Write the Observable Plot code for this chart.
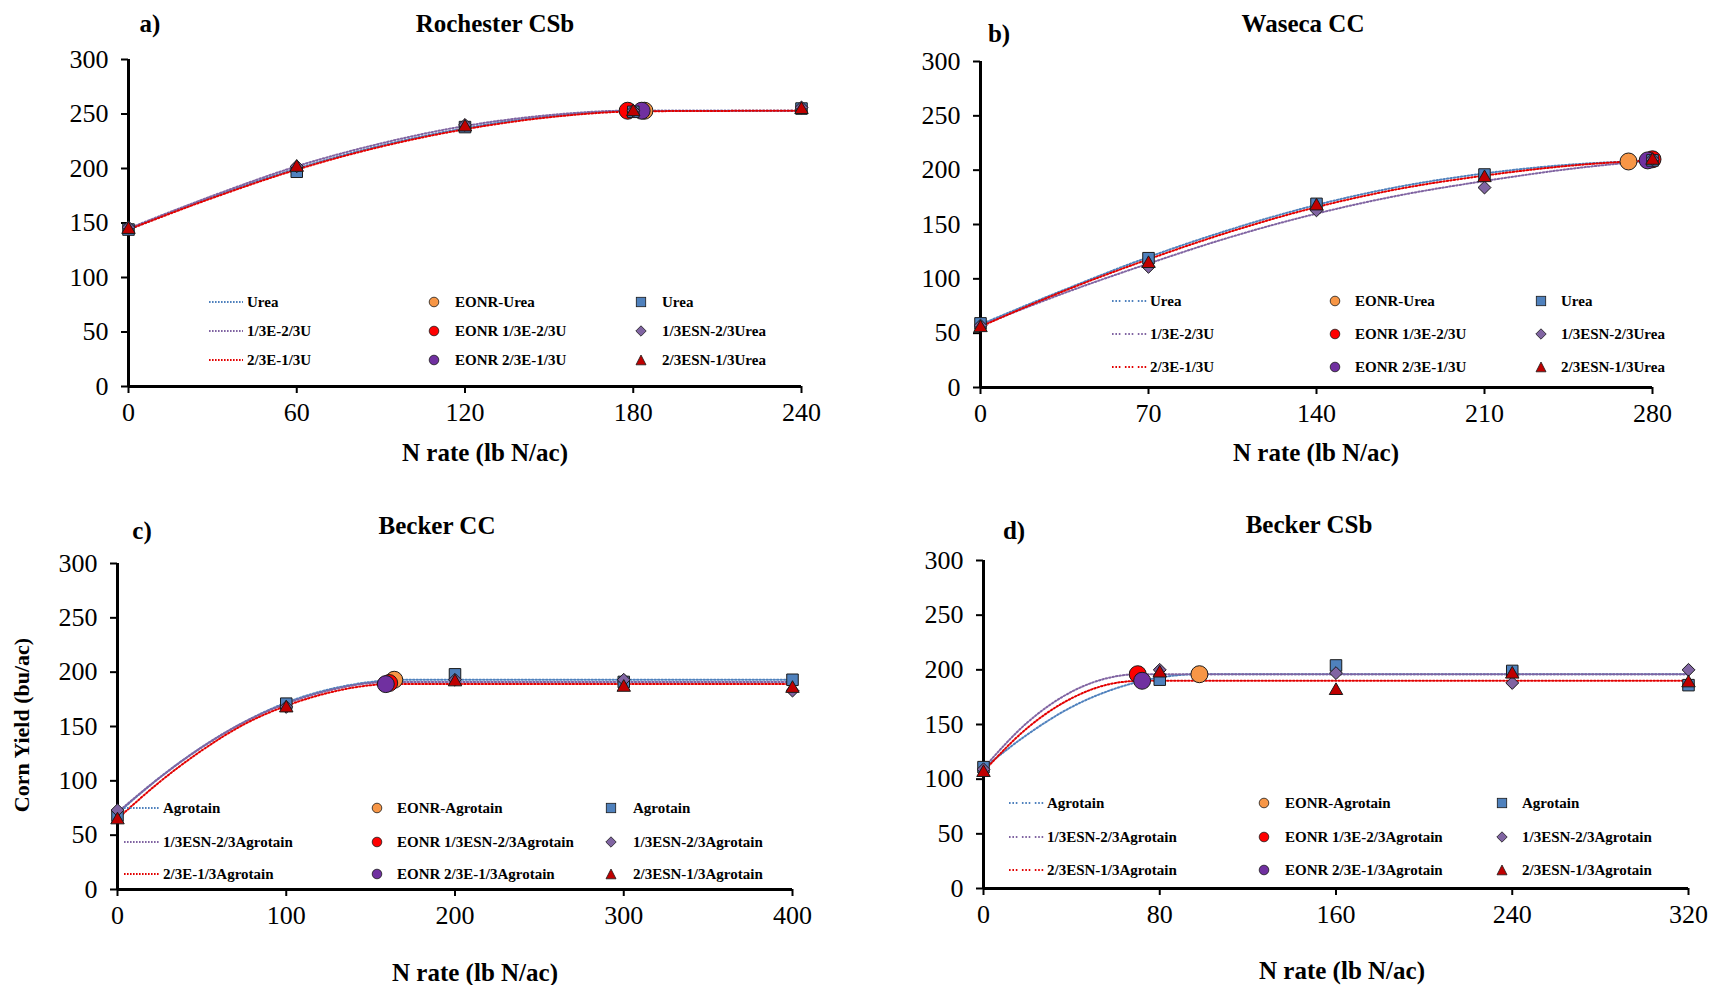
<!DOCTYPE html>
<html><head><meta charset="utf-8">
<script src="https://cdn.jsdelivr.net/npm/d3@7"></script>
<script src="https://cdn.jsdelivr.net/npm/@observablehq/plot@0.6"></script>
<style>
body{margin:0;background:#fff;}
#root{position:relative;width:1722px;height:985px;font-family:"Liberation Serif","Times New Roman",serif;color:#000;overflow:hidden;background:#fff}
.abs{position:absolute;white-space:nowrap;line-height:1}
.t{font-weight:bold;font-size:25px;transform:translate(-50%,-50%)}
.lg{font-weight:bold;font-size:15px;transform:translateY(-50%)}
.sym{position:absolute;transform:translate(-50%,-50%)}
.plot{position:absolute}
.plot text{font-family:"Liberation Serif","Times New Roman",serif}
</style></head><body><div id="root"></div>
<script>
// ---------------- DATA ----------------
const yTicks = [0, 50, 100, 150, 200, 250, 300];

// a) Rochester CSb
const rochX = [0, 60, 120, 180, 240];
const rochUrea = [144, 197, 238, 252, 255];
const rochE13 = [146, 202, 240, 253, 256];
const rochE23 = [144, 201, 238, 252, 254];
const rochEonrX = [184, 178, 183];       // EONR-Urea, EONR 1/3E-2/3U, EONR 2/3E-1/3U
const rochEonrY = [253, 253, 253];
const rochCurveUreaX = [0, 30, 60, 90, 120, 150, 184, 240];
const rochCurveUreaY = [144, 174, 200, 221, 237, 248, 253, 253];
const rochCurveE13X = [0, 30, 60, 90, 120, 150, 178, 240];
const rochCurveE13Y = [145, 175, 202, 223, 239, 249, 253, 253];
const rochCurveE23X = [0, 30, 60, 90, 120, 150, 183, 240];
const rochCurveE23Y = [144, 173, 199, 220, 236, 247, 252.5, 253];

// b) Waseca CC
const wasX = [0, 70, 140, 210, 280];
const wasUrea = [59, 119, 169, 196, 209];
const wasE13 = [57, 111, 163, 184, 210];
const wasE23 = [55, 114, 167, 193, 209];
const wasEonrX = [270, 280, 278];
const wasEonrY = [208, 210, 209];
const wasCurveUreaX = [0, 35, 70, 105, 140, 175, 210, 245, 270];
const wasCurveUreaY = [58, 90, 120, 146, 168, 185, 197, 205, 208];
const wasCurveE13X = [0, 35, 70, 105, 140, 175, 210, 245, 280];
const wasCurveE13Y = [57, 87, 114, 139, 160, 177, 190, 201, 209];
const wasCurveE23X = [0, 35, 70, 105, 140, 175, 210, 245, 278];
const wasCurveE23Y = [56, 89, 118, 144, 166, 183, 195, 204, 209];

// c) Becker CC
const bccX = [0, 100, 200, 300, 400];
const bccAgro = [68, 171, 198, 191, 193];
const bccE13 = [73, 168, 193, 193, 183];
const bccE23 = [64, 167, 191, 186, 185];
const bccEonrX = [164, 161, 159];
const bccEonrY = [193, 190, 189];
const bccCurveAgroX = [0, 25, 50, 75, 100, 125, 150, 164, 400];
const bccCurveAgroY = [70, 103, 131, 154, 172, 184, 191, 193, 193];
const bccCurveE13X = [0, 25, 50, 75, 100, 125, 150, 161, 400];
const bccCurveE13Y = [71, 103, 131, 154, 171, 183, 190, 191, 191];
const bccCurveE23X = [0, 25, 50, 75, 100, 125, 150, 159, 400];
const bccCurveE23Y = [65, 99, 128, 152, 169, 181, 188, 189, 189];

// d) Becker CSb
const bcsX = [0, 80, 160, 240, 320];
const bcsAgro = [111, 191, 204, 199, 186];
const bcsE13 = [109, 200, 197, 188, 200];
const bcsE23 = [106, 197, 181, 196, 188];
const bcsEonrX = [98, 70, 72];
const bcsEonrY = [196, 196, 190];
const bcsCurveAgroX = [0, 20, 40, 60, 80, 98, 320];
const bcsCurveAgroY = [110, 141, 166, 183, 193, 196, 196];
const bcsCurveE13X = [0, 20, 40, 60, 70, 320];
const bcsCurveE13Y = [110, 152, 180, 194, 196, 196];
const bcsCurveE23X = [0, 20, 40, 60, 72, 320];
const bcsCurveE23Y = [107, 147, 174, 188, 190, 190];

// ---------------- STYLE / LAYOUT ----------------
const FONT = "'Liberation Serif', 'Times New Roman', serif";
const C = {
  blueLine: "#4F81BD", purpleLine: "#8064A2", redLine: "#E30000",
  sq: "#4F81BD", di: "#8064A2", tri: "#C00000",
  eOrange: "#F79646", eRed: "#FF0000", ePurple: "#7030A0", edge: "#1a1a1a"
};
const zip = (xs, ys) => xs.map((x, i) => ({x, y: ys[i]}));
const DOT = "1.5,2";
const DENSE = "1.6,1.4";
const GROUPED = "1.6,1.8,1.6,1.8,1.6,4.5";

const panels = [
  {
    left: 0, top: 0, width: 860, height: 480, m: [59, 59, 94, 128], xmax: 240, xTicks: rochX, dash: DENSE,
    curves: [[rochCurveUreaX, rochCurveUreaY, C.blueLine], [rochCurveE13X, rochCurveE13Y, C.purpleLine], [rochCurveE23X, rochCurveE23Y, C.redLine]],
    pts: [rochX, rochUrea, rochE13, rochE23], eonr: [rochEonrX, rochEonrY],
    letter: ["a)", 150, 23], title: ["Rochester CSb", 495, 23], xlab: [485, 452],
    leg: {rows: [302, 331, 360], c1: [209, 243, 247], c2: [434, 455], c3: [641, 662],
      t1: ["Urea", "1/3E-2/3U", "2/3E-1/3U"], t2: ["EONR-Urea", "EONR 1/3E-2/3U", "EONR 2/3E-1/3U"], t3: ["Urea", "1/3ESN-2/3Urea", "2/3ESN-1/3Urea"]}
  },
  {
    left: 860, top: 0, width: 862, height: 480, m: [61, 70, 93, 120], xmax: 280, xTicks: wasX, dash: GROUPED,
    curves: [[wasCurveUreaX, wasCurveUreaY, C.blueLine], [wasCurveE13X, wasCurveE13Y, C.purpleLine], [wasCurveE23X, wasCurveE23Y, C.redLine]],
    pts: [wasX, wasUrea, wasE13, wasE23], eonr: [wasEonrX, wasEonrY],
    letter: ["b)", 999, 33], title: ["Waseca CC", 1303, 23], xlab: [1316, 452],
    leg: {rows: [301, 334, 367], c1: [1112, 1147, 1150], c2: [1335, 1355], c3: [1541, 1561],
      t1: ["Urea", "1/3E-2/3U", "2/3E-1/3U"], t2: ["EONR-Urea", "EONR 1/3E-2/3U", "EONR 2/3E-1/3U"], t3: ["Urea", "1/3ESN-2/3Urea", "2/3ESN-1/3Urea"]}
  },
  {
    left: 0, top: 490, width: 860, height: 495, m: [73, 68, 96, 117], xmax: 400, xTicks: bccX, dash: DENSE,
    curves: [[bccCurveAgroX, bccCurveAgroY, C.blueLine], [bccCurveE13X, bccCurveE13Y, C.purpleLine], [bccCurveE23X, bccCurveE23Y, C.redLine]],
    pts: [bccX, bccAgro, bccE13, bccE23], eonr: [bccEonrX, bccEonrY],
    letter: ["c)", 142, 530], title: ["Becker CC", 437, 525], xlab: [475, 972],
    leg: {rows: [808, 842, 874], c1: [124, 160, 163], c2: [377, 397], c3: [611, 633],
      t1: ["Agrotain", "1/3ESN-2/3Agrotain", "2/3E-1/3Agrotain"], t2: ["EONR-Agrotain", "EONR 1/3ESN-2/3Agrotain", "EONR 2/3E-1/3Agrotain"], t3: ["Agrotain", "1/3ESN-2/3Agrotain", "2/3ESN-1/3Agrotain"]}
  },
  {
    left: 860, top: 490, width: 862, height: 495, m: [70, 34, 97, 123], xmax: 320, xTicks: bcsX, dash: GROUPED,
    curves: [[bcsCurveAgroX, bcsCurveAgroY, C.blueLine], [bcsCurveE13X, bcsCurveE13Y, C.purpleLine], [bcsCurveE23X, bcsCurveE23Y, C.redLine]],
    pts: [bcsX, bcsAgro, bcsE13, bcsE23], eonr: [bcsEonrX, bcsEonrY],
    letter: ["d)", 1014, 530], title: ["Becker CSb", 1309, 524], xlab: [1342, 970],
    leg: {rows: [803, 837, 870], c1: [1009, 1044, 1047], c2: [1264, 1285], c3: [1502, 1522],
      t1: ["Agrotain", "1/3ESN-2/3Agrotain", "2/3ESN-1/3Agrotain"], t2: ["EONR-Agrotain", "EONR 1/3E-2/3Agrotain", "EONR 2/3E-1/3Agrotain"], t3: ["Agrotain", "1/3ESN-2/3Agrotain", "2/3ESN-1/3Agrotain"]}
  }
];

const root = document.getElementById("root");
function addText(txt, x, y, cls, extra) {
  const d = document.createElement("div");
  d.className = "abs " + cls;
  d.style.left = x + "px"; d.style.top = y + "px";
  if (extra) Object.assign(d.style, extra);
  d.textContent = txt;
  root.appendChild(d);
  return d;
}
function addSym(kind, color, x, y) {
  const ns = "http://www.w3.org/2000/svg";
  const s = document.createElementNS(ns, "svg");
  let inner = "";
  if (kind === "circle") inner = `<circle cx="6" cy="6" r="4.8" fill="${color}" stroke="${C.edge}" stroke-width="0.8"/>`;
  if (kind === "square") inner = `<rect x="1.3" y="1.3" width="9.4" height="9.4" fill="${color}" stroke="${C.edge}" stroke-width="0.8"/>`;
  if (kind === "diamond") inner = `<polygon points="6,0.8 11.2,6 6,11.2 0.8,6" fill="${color}" stroke="${C.edge}" stroke-width="0.8"/>`;
  if (kind === "triangle") inner = `<polygon points="6,1 11,10.8 1,10.8" fill="${color}" stroke="${C.edge}" stroke-width="0.8"/>`;
  s.setAttribute("width", 12); s.setAttribute("height", 12);
  s.setAttribute("class", "sym");
  s.innerHTML = inner;
  s.style.position = "absolute"; s.style.left = x + "px"; s.style.top = y + "px";
  root.appendChild(s);
}
function addLineSym(color, x1, x2, y, dash) {
  const ns = "http://www.w3.org/2000/svg";
  const s = document.createElementNS(ns, "svg");
  s.setAttribute("width", x2 - x1); s.setAttribute("height", 4);
  s.innerHTML = `<line x1="0" y1="2" x2="${x2 - x1}" y2="2" stroke="${color}" stroke-width="2" stroke-dasharray="${dash}"/>`;
  s.style.position = "absolute"; s.style.left = x1 + "px"; s.style.top = (y - 2) + "px";
  root.appendChild(s);
}

for (const p of panels) {
  const [px, sqY, diY, trY] = p.pts;
  const marks = [
    ...p.curves.map(([xs, ys, col]) => Plot.line(zip(xs, ys), {x: "x", y: "y", stroke: col, strokeWidth: 2, strokeDasharray: DOT, curve: "monotone-x"})),
    Plot.ruleY([0], {stroke: "black", strokeWidth: 3}),
    Plot.ruleX([0], {stroke: "black", strokeWidth: 3}),
    Plot.axisX({ticks: p.xTicks, tickSize: 7, tickPadding: 9, fontSize: 26, fontFamily: FONT, label: null, strokeWidth: 2, stroke: "black", fill: "black"}),
    Plot.axisY({ticks: yTicks, tickSize: 7, tickPadding: 13, fontSize: 26, fontFamily: FONT, label: null, strokeWidth: 2, stroke: "black", fill: "black"}),
    Plot.dot(zip(p.eonr[0], p.eonr[1]).map((d, i) => ({...d, k: i})), {x: "x", y: "y", r: 8.5, stroke: C.edge, strokeWidth: 1,
      fill: d => [C.eOrange, C.eRed, C.ePurple][d.k]}),
    Plot.dot(zip(px, sqY), {x: "x", y: "y", symbol: "square", r: 6.5, fill: C.sq, stroke: C.edge, strokeWidth: 1}),
    Plot.dot(zip(px, diY), {x: "x", y: "y", symbol: "diamond2", r: 5.8, fill: C.di, stroke: C.edge, strokeWidth: 1}),
    Plot.dot(zip(px, trY), {x: "x", y: "y", symbol: "triangle", r: 5, fill: C.tri, stroke: C.edge, strokeWidth: 1})
  ];
  const chart = Plot.plot({
    width: p.width, height: p.height,
    marginTop: p.m[0], marginRight: p.m[1], marginBottom: p.m[2], marginLeft: p.m[3],
    x: {domain: [0, p.xmax]}, y: {domain: [0, 300]},
    style: {fontFamily: FONT, color: "black", background: "transparent", overflow: "visible"},
    marks
  });
  chart.classList.add("plot");
  chart.style.left = p.left + "px"; chart.style.top = p.top + "px";
  root.appendChild(chart);

  addText(p.letter[0], p.letter[1], p.letter[2], "t");
  addText(p.title[0], p.title[1], p.title[2], "t");
  addText("N rate (lb N/ac)", p.xlab[0], p.xlab[1], "t");

  const L = p.leg;
  const lineCols = [C.blueLine, C.purpleLine, C.redLine];
  const eCols = [C.eOrange, C.eRed, C.ePurple];
  const syms = [["square", C.sq], ["diamond", C.di], ["triangle", C.tri]];
  L.rows.forEach((y, i) => {
    addLineSym(lineCols[i], L.c1[0], L.c1[1], y, p.dash);
    addText(L.t1[i], L.c1[2], y, "lg");
    addSym("circle", eCols[i], L.c2[0], y);
    addText(L.t2[i], L.c2[1], y, "lg");
    addSym(syms[i][0], syms[i][1], L.c3[0], y);
    addText(L.t3[i], L.c3[1], y, "lg");
  });
}
// shared y-axis title
addText("Corn Yield (bu/ac)", 22, 725, "t", {fontSize: "22px", transform: "translate(-50%,-50%) rotate(-90deg)"});
</script></body></html>
